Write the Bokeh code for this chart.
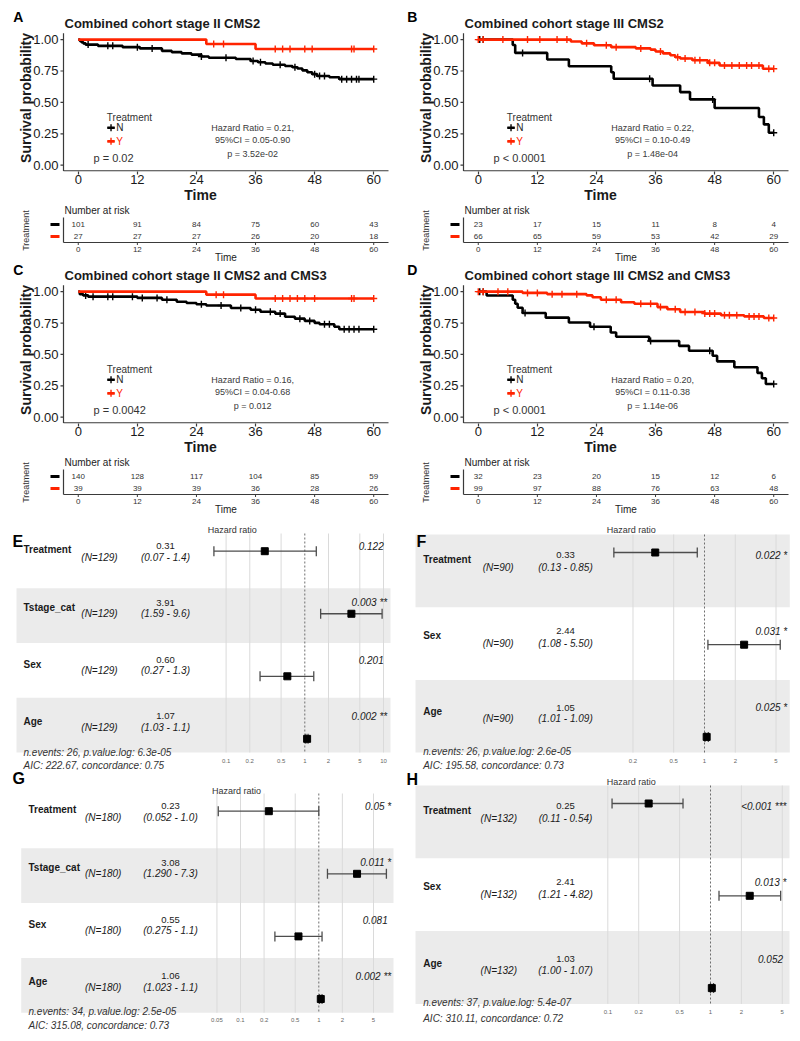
import math
from bokeh.plotting import figure
from bokeh.layouts import column, row
from bokeh.models import Range1d, FixedTicker
from bokeh.core.properties import value
from bokeh.embed import file_html
from bokeh.resources import INLINE

FONT = "Liberation Sans"
BLACK = "#000000"
RED = "#FF2400"
TXT = "#1a1a1a"
AXC = "#3a3a3a"

# ------------------------------------------------------------------ data
risk_times = [0, 12, 24, 36, 48, 60]
surv_ticks = [0, 0.25, 0.5, 0.75, 1.0]
group_labels = ["N", "Y"]

# Panel A
a_title = "Combined cohort stage II CMS2"
a_n_t = [0, 0.3, 0.6, 1.0, 1.5, 4, 9, 12.5, 17, 19, 21, 23, 25, 26.5, 32, 35, 36.5, 38, 39.5, 42, 43.5, 44.5, 45.5, 46.5, 47.5, 48.5, 51, 53]
a_n_s = [1.0, 0.99, 0.98, 0.97, 0.96, 0.95, 0.94, 0.93, 0.91, 0.90, 0.89, 0.88, 0.865, 0.855, 0.845, 0.83, 0.82, 0.81, 0.80, 0.79, 0.78, 0.77, 0.755, 0.74, 0.725, 0.71, 0.70, 0.685]
a_n_c = [2, 6, 7, 12, 15, 25, 30, 35.5, 37, 41, 44, 48, 49, 50, 53.5, 54.5, 55.5, 56.5, 57, 60]
a_y_t = [0, 26, 36]
a_y_s = [1.0, 0.965, 0.925]
a_y_c = [27.5, 29.5, 40, 41.5, 43, 46, 47.5, 55.5, 56, 60]
a_pval = "p = 0.02"
a_hr = ["Hazard Ratio = 0.21,", "95%CI = 0.05-0.90", "p = 3.52e-02"]
a_risk_n = [101, 91, 84, 75, 60, 43]
a_risk_y = [27, 27, 27, 26, 20, 18]

# Panel B
b_title = "Combined cohort stage III CMS2"
b_n_t = [0, 7, 7.5, 14, 18.4, 27, 27.5, 35.4, 41, 43, 48, 57, 58, 59]
b_n_s = [1.0, 0.957, 0.894, 0.841, 0.788, 0.74, 0.688, 0.635, 0.582, 0.524, 0.455, 0.384, 0.325, 0.259]
b_n_c = [0.3, 1, 9, 34.8, 47.6, 60]
b_y_t = [0, 18.8, 21, 23.5, 27, 32, 35, 36, 37.5, 39, 40, 41, 43.5, 46.6, 49, 57.8]
b_y_s = [1.0, 0.985, 0.97, 0.955, 0.94, 0.93, 0.92, 0.905, 0.89, 0.875, 0.86, 0.85, 0.835, 0.815, 0.794, 0.768]
b_y_c = [0, 1, 5, 10, 12.5, 16, 18, 22, 26, 28, 33, 37, 40.5, 42, 44, 45, 47, 48, 50, 51.5, 53, 54.5, 55.5, 57, 59, 60]
b_pval = "p < 0.0001"
b_hr = ["Hazard Ratio = 0.22,", "95%CI = 0.10-0.49", "p = 1.48e-04"]
b_risk_n = [23, 17, 15, 11, 8, 4]
b_risk_y = [66, 65, 59, 53, 42, 29]

# Panel C
c_title = "Combined cohort stage II CMS2 and CMS3"
c_n_t = [0, 0.3, 1, 2, 12, 17, 20, 22, 24, 26, 31, 35, 37, 40, 42, 44, 46, 48, 49, 52, 53]
c_n_s = [1.0, 0.98, 0.97, 0.96, 0.95, 0.935, 0.92, 0.91, 0.90, 0.89, 0.87, 0.856, 0.84, 0.825, 0.80, 0.785, 0.767, 0.751, 0.74, 0.72, 0.70]
c_n_c = [1.5, 3, 6, 7, 11, 13, 16, 18, 25, 29, 33, 36, 39, 41, 45, 47, 50, 51, 54, 55, 56, 57, 60]
c_y_t = [0, 26, 36]
c_y_s = [1.0, 0.976, 0.945]
c_y_c = [28, 29.5, 40, 41.5, 43, 44.5, 46, 48, 55.5, 56, 60]
c_pval = "p = 0.0042"
c_hr = ["Hazard Ratio = 0.16,", "95%CI = 0.04-0.68", "p = 0.012"]
c_risk_n = [140, 128, 117, 104, 85, 59]
c_risk_y = [39, 39, 39, 36, 28, 26]

# Panel D
d_title = "Combined cohort stage III CMS2 and CMS3"
d_n_t = [0, 1.7, 7, 7.5, 8, 9, 13.7, 18.4, 22.7, 26.9, 28, 34.7, 40.8, 42.8, 47.6, 48.5, 52, 56.7, 57.6, 58.4]
d_n_s = [1.0, 0.969, 0.935, 0.903, 0.872, 0.83, 0.793, 0.754, 0.72, 0.675, 0.641, 0.607, 0.568, 0.529, 0.49, 0.445, 0.398, 0.353, 0.31, 0.264]
d_n_c = [0.3, 1, 9.5, 23.5, 35, 47, 60]
d_y_t = [0, 9, 14, 22, 23.2, 24.9, 29, 31.7, 36.4, 38.4, 41, 45.9, 49.3, 54, 58]
d_y_s = [1.0, 0.99, 0.98, 0.97, 0.955, 0.935, 0.916, 0.903, 0.877, 0.86, 0.838, 0.825, 0.812, 0.803, 0.79]
d_y_c = [0, 1, 4, 6, 10, 12, 15, 17, 20, 26, 28, 33, 35, 37, 40, 42, 44, 46, 47, 48, 50, 51, 52.5, 55, 56, 57, 59, 60]
d_pval = "p < 0.0001"
d_hr = ["Hazard Ratio = 0.20,", "95%CI = 0.11-0.38", "p = 1.14e-06"]
d_risk_n = [32, 23, 20, 15, 12, 6]
d_risk_y = [99, 97, 88, 76, 63, 48]

# Forest E
e_vars = ["Treatment", "Tstage_cat", "Sex", "Age"]
e_n = [129, 129, 129, 129]
e_hr = [0.31, 3.91, 0.60, 1.07]
e_lo = [0.07, 1.59, 0.27, 1.03]
e_hi = [1.4, 9.6, 1.3, 1.1]
e_hr_txt = ["0.31", "3.91", "0.60", "1.07"]
e_ci_txt = ["(0.07 - 1.4)", "(1.59 - 9.6)", "(0.27 - 1.3)", "(1.03 - 1.1)"]
e_p = ["0.122", "0.003", "0.201", "0.002"]
e_stars = ["", "**", "", "**"]
e_foot = ["n.events: 26, p.value.log: 6.3e-05", "AIC: 222.67, concordance: 0.75"]
e_ticks = [0.1, 0.2, 0.5, 1, 2, 5, 10]
e_tick_txt = ["0.1", "0.2", "0.5", "1", "2", "5", "10"]

# Forest F
f_vars = ["Treatment", "Sex", "Age"]
f_n = [90, 90, 90]
f_hr = [0.33, 2.44, 1.05]
f_lo = [0.13, 1.08, 1.01]
f_hi = [0.85, 5.50, 1.09]
f_hr_txt = ["0.33", "2.44", "1.05"]
f_ci_txt = ["(0.13 - 0.85)", "(1.08 - 5.50)", "(1.01 - 1.09)"]
f_p = ["0.022", "0.031", "0.025"]
f_stars = ["*", "*", "*"]
f_foot = ["n.events: 26, p.value.log: 2.6e-05", "AIC: 195.58, concordance: 0.73"]
f_ticks = [0.2, 0.5, 1, 2, 5]
f_tick_txt = ["0.2", "0.5", "1", "2", "5"]

# Forest G
g_vars = ["Treatment", "Tstage_cat", "Sex", "Age"]
g_n = [180, 180, 180, 180]
g_hr = [0.23, 3.08, 0.55, 1.06]
g_lo = [0.052, 1.290, 0.275, 1.023]
g_hi = [1.0, 7.3, 1.1, 1.1]
g_hr_txt = ["0.23", "3.08", "0.55", "1.06"]
g_ci_txt = ["(0.052 - 1.0)", "(1.290 - 7.3)", "(0.275 - 1.1)", "(1.023 - 1.1)"]
g_p = ["0.05", "0.011", "0.081", "0.002"]
g_stars = ["*", "*", "", "**"]
g_foot = ["n.events: 34, p.value.log: 2.5e-05", "AIC: 315.08, concordance: 0.73"]
g_ticks = [0.05, 0.1, 0.2, 0.5, 1, 2, 5]
g_tick_txt = ["0.05", "0.1", "0.2", "0.5", "1", "2", "5"]

# Forest H
h_vars = ["Treatment", "Sex", "Age"]
h_n = [132, 132, 132]
h_hr = [0.25, 2.41, 1.03]
h_lo = [0.11, 1.21, 1.00]
h_hi = [0.54, 4.82, 1.07]
h_hr_txt = ["0.25", "2.41", "1.03"]
h_ci_txt = ["(0.11 - 0.54)", "(1.21 - 4.82)", "(1.00 - 1.07)"]
h_p = ["<0.001", "0.013", "0.052"]
h_stars = ["***", "*", ""]
h_foot = ["n.events: 37, p.value.log: 5.4e-07", "AIC: 310.11, concordance: 0.72"]
h_ticks = [0.1, 0.2, 0.5, 1, 2, 5]
h_tick_txt = ["0.1", "0.2", "0.5", "1", "2", "5"]


# ------------------------------------------------------------------ helpers
def txt(p, x, y, text, size, style="normal", align="left", color=TXT, angle=0.0, baseline="middle"):
    p.text(x=x, y=y, text=text, text_font=value(FONT), text_font_size=f"{size}px",
           text_font_style=style, text_align=align, text_baseline=baseline,
           text_color=color, angle=angle)


def surv_at(t, s, c):
    v = s[0]
    for ti, si in zip(t, s):
        if ti <= c:
            v = si
    return v


W = 400
LEFT = 63           # pixel column of the y axis line inside each KM / risk figure
SX = 325 / 66.0     # px per month
SY = 139 / 1.1      # px per survival unit
X0, X1 = -3, 63     # plotted time extent (ggplot expansion)
Y0, Y1 = -0.05, 1.05


def base_fig(w, h, xr, yr, bottom=0, xlog=False):
    kw = dict(width=w, height=h, x_range=xr, y_range=yr, output_backend="svg",
              toolbar_location=None, min_border_left=0, min_border_right=0,
              min_border_top=0, min_border_bottom=bottom)
    if xlog:
        kw["x_axis_type"] = "log"
    p = figure(**kw)
    p.outline_line_color = None
    p.xgrid.visible = False
    p.ygrid.visible = False
    p.background_fill_color = "white"
    p.border_fill_color = "white"
    return p


def dx(px):
    return X0 + (px - LEFT) / SX


def km_panel(letter, title, n_t, n_s, n_c, y_t, y_s, y_c, pval, hr_lines, H, shift, letter_x, letter_y):
    # shift: pixel offset from the reference layout of panel A to this figure's own rows
    T = 33 + shift          # row of y = 1.05
    FB = 172 + shift        # row of the x axis line

    def dy(py):
        return Y1 - (py - T) / SY

    p = base_fig(W, H, Range1d(dx(0), dx(W)), Range1d(dy(FB), dy(0)), bottom=H - FB)
    p.yaxis.visible = False

    xa = p.xaxis[0]
    xa.ticker = FixedTicker(ticks=risk_times)
    xa.axis_line_color = None
    xa.major_tick_line_color = AXC
    xa.major_tick_line_width = 1.2
    xa.major_tick_out = 3
    xa.major_tick_in = 0
    xa.minor_tick_out = 0
    xa.minor_tick_in = 0
    xa.major_label_text_font = FONT
    xa.major_label_text_font_size = "13px"
    xa.major_label_text_color = TXT
    xa.major_label_standoff = 0
    xa.axis_label = "Time"
    xa.axis_label_text_font = FONT
    xa.axis_label_text_font_size = "14px"
    xa.axis_label_text_font_style = "bold"
    xa.axis_label_text_color = TXT
    xa.axis_label_standoff = 0

    yb = dy(FB - 0.6)
    p.segment(x0=[X0], y0=[yb], x1=[X1], y1=[yb], line_color=AXC, line_width=1.2)
    p.segment(x0=[X0], y0=[yb], x1=[X0], y1=[Y1], line_color=AXC, line_width=1.2)
    p.segment(x0=[dx(LEFT - 3)] * len(surv_ticks), y0=surv_ticks, x1=[X0] * len(surv_ticks),
              y1=surv_ticks, line_color=AXC, line_width=1.2)
    txt(p, [dx(LEFT - 5)] * len(surv_ticks), surv_ticks, [f"{v:.2f}" for v in surv_ticks], 13, align="right")
    txt(p, [dx(LEFT - 38)], [dy(98 + shift)], ["Survival probability"], 14, style="bold", align="center",
        angle=math.pi / 2)

    for t, s, c, col in ((n_t, n_s, n_c, BLACK), (y_t, y_s, y_c, RED)):
        p.step(x=t + [60], y=s + [s[-1]], mode="after", line_width=2.6, line_color=col)
        p.scatter(x=c, y=[surv_at(t, s, ci) for ci in c], marker="cross", size=7,
                  line_width=1.4, line_color=col)

    txt(p, [5.8], [0.377], ["Treatment"], 10, color="#333333")
    for lab, yy, col in ((group_labels[0], 0.298, BLACK), (group_labels[1], 0.19, RED)):
        p.line(x=[5.9, 7.4], y=[yy, yy], line_width=2.6, line_color=col)
        p.scatter(x=[6.65], y=[yy], marker="cross", size=7, line_width=1.4, line_color=col)
        txt(p, [7.7], [yy], [lab], 10, color=col if col == RED else "#222222")

    txt(p, [3.1], [0.061], [pval], 11, color="#333333")
    txt(p, [35.4] * 3, [0.298, 0.203, 0.093], hr_lines, 9, align="center", color="#3a3a3a")

    txt(p, [dx(LEFT + 1)], [dy(23 + shift)], [title], 13, style="bold")
    txt(p, [dx(letter_x)], [dy(letter_y)], [letter], 14, style="bold", color="#000000")
    return p


def risk_panel(n_vals, y_vals, H, top_ref):
    # top_ref: row of panel A's reference layout that maps to this figure's top edge
    def ry(ref):
        return 2 - (ref - 224) / 12.0

    p = base_fig(W, H, Range1d(dx(0), dx(W)), Range1d(ry(top_ref + H), ry(top_ref)))
    p.xaxis.visible = False
    p.yaxis.visible = False

    txt(p, risk_times, [2] * len(risk_times), [str(v) for v in n_vals], 8, align="center", color="#333333")
    txt(p, risk_times, [1] * len(risk_times), [str(v) for v in y_vals], 8, align="center", color="#333333")

    ya = ry(242)
    p.segment(x0=[X0], y0=[ya], x1=[X1], y1=[ya], line_color=AXC, line_width=1.2)
    p.segment(x0=[X0], y0=[ya], x1=[X0], y1=[ry(217)], line_color=AXC, line_width=1.2)
    p.segment(x0=risk_times, y0=[ya] * len(risk_times), x1=risk_times, y1=[ry(244.5)] * len(risk_times),
              line_color=AXC, line_width=1)
    txt(p, risk_times, [ry(248.5)] * len(risk_times), [str(v) for v in risk_times], 8, align="center",
        color="#333333")
    txt(p, [30], [ry(256.8)], ["Time"], 10, align="center", color="#222222")
    txt(p, [dx(LEFT + 1)], [ry(210)], ["Number at risk"], 10, color="#222222")
    txt(p, [dx(LEFT - 38)], [ry(230)], ["Treatment"], 9, align="center", color="#333333", angle=math.pi / 2)
    p.segment(x0=[dx(LEFT - 13)] * 2, y0=[2, 1], x1=[dx(LEFT - 4)] * 2, y1=[2, 1],
              line_color=[BLACK, RED], line_width=3.2)
    return p


OFF4 = {"name": (16.3, 2.5), "n": (23.5, 2.0), "est": (12.5, 2.0), "ci": (23.5, 2.0),
        "p": (12.5, 2.0), "pt": (17.7, 7.8)}
OFF3 = {"name": (25.0, 3.5), "n": (33.0, 3.0), "est": (20.0, 4.0), "ci": (33.0, 3.0),
        "p": (21.0, 3.5), "pt": (18.0, 19.5)}


def forest_panel(letter, vars_, ns, hr, lo, hi, hr_txt, ci_txt, pv, stars, foot, ticks, tick_txt, H, g):
    c, ppd = g["c"], g["ppd"]
    d = g.get("dy", 0)

    def hx(px):
        return 10 ** ((px - c) / ppd)

    p = base_fig(W, H, Range1d(hx(0), hx(W)), Range1d(H, 0), xlog=True)
    p.xaxis.visible = False
    p.yaxis.visible = False

    n = len(vars_)
    rt, rh = g["rt"] + d, g["rh"]
    off = g["off"]

    def ys(key):
        b, inc = off[key]
        return [rt + i * rh + b + i * inc for i in range(n)]

    gray = [i for i in range(n) if (n - 1 - i) % 2 == 0]
    p.quad(left=[hx(g["bl"])] * len(gray), right=[hx(g["br"])] * len(gray),
           top=[rt + i * rh for i in gray], bottom=[rt + (i + 1) * rh for i in gray],
           fill_color="#EBEBEB", line_color=None)

    other = [t for t in ticks if t != 1]
    p.segment(x0=other, y0=[rt] * len(other), x1=other, y1=[rt + n * rh] * len(other),
              line_color="#DADADA", line_width=1)
    p.segment(x0=[1], y0=[rt], x1=[1], y1=[rt + n * rh], line_color="#6e6e6e",
              line_width=1, line_dash="2 2")

    py = ys("pt")
    p.segment(x0=lo, y0=py, x1=hi, y1=py, line_color="#4d4d4d", line_width=1.3)
    p.segment(x0=lo, y0=[y - 5 for y in py], x1=lo, y1=[y + 5 for y in py], line_color="#4d4d4d", line_width=1.3)
    p.segment(x0=hi, y0=[y - 5 for y in py], x1=hi, y1=[y + 5 for y in py], line_color="#4d4d4d", line_width=1.3)
    p.scatter(x=hr, y=py, marker="square", size=7, fill_color="black", line_color="black")

    txt(p, [hx(g["name_x"])] * n, ys("name"), vars_, 10, style="bold")
    txt(p, [hx(g["n_x"])] * n, ys("n"), [f"(N={v})" for v in ns], 10, style="italic", align="center")
    txt(p, [hx(g["est_x"])] * n, ys("est"), hr_txt, 9.5, align="center")
    txt(p, [hx(g["est_x"])] * n, ys("ci"), ci_txt, 10, style="italic", align="center")
    txt(p, [hx(g["p_x"] - (0 if s else 3.5)) for s in stars], ys("p"),
        [f"{a} {s}" if s else a for a, s in zip(pv, stars)], 10, style="italic", align="right")
    txt(p, [hx(g["title_x"])], [g["title_y"] + d], ["Hazard ratio"], 9, align="center", color="#333333")
    txt(p, ticks, [g["tick_y"] + d] * len(ticks), tick_txt, 6, align="center", color="#666666")
    txt(p, [hx(g["foot_x"])] * 2, [v + d for v in g["foot_y"]], foot, 10, style="italic", color="#333333")
    txt(p, [hx(g["letter_x"])], [g["letter_y"] + d], [letter], 16, style="bold", color="#000000")
    return p


# ------------------------------------------------------------------ build
H1, H2, H3, H4, H5, H6 = 205, 57, 195, 58, 255, 270
SHIFT_C = 252 - (H1 + H2)
G_TOP = H1 + H2 + H3 + H4 + H5          # page row where the G/H figures start
G_D = 772 - G_TOP                        # offset of the G/H layout reference (top = 772)

pA = km_panel("A", a_title, a_n_t, a_n_s, a_n_c, a_y_t, a_y_s, a_y_c, a_pval, a_hr, H1, 0, 12.7, 17)
pB = km_panel("B", b_title, b_n_t, b_n_s, b_n_c, b_y_t, b_y_s, b_y_c, b_pval, b_hr, H1, 0, 6.7, 17)
rA = risk_panel(a_risk_n, a_risk_y, H2, H1)
rB = risk_panel(b_risk_n, b_risk_y, H2, H1)
pC = km_panel("C", c_title, c_n_t, c_n_s, c_n_c, c_y_t, c_y_s, c_y_c, c_pval, c_hr, H3, SHIFT_C, 12.7, 8)
pD = km_panel("D", d_title, d_n_t, d_n_s, d_n_c, d_y_t, d_y_s, d_y_c, d_pval, d_hr, H3, SHIFT_C, 6.7, 8)
rC = risk_panel(c_risk_n, c_risk_y, H4, H1 + H2 + H3 - 252)
rD = risk_panel(d_risk_n, d_risk_y, H4, H1 + H2 + H3 - 252)

gE = dict(c=304.3, ppd=78.7, rt=18, rh=54.75, bl=16, br=390, name_x=23, n_x=99,
          est_x=165, p_x=386.7, title_x=231.7, title_y=14, letter_x=12, letter_y=26, foot_x=23,
          foot_y=(236.5, 249.5), tick_y=245, off=OFF4)
gF = dict(c=304, ppd=102.3, rt=19, rh=72.7, bl=15, br=389.3, name_x=22.7, n_x=97.7,
          est_x=165, p_x=386.7, title_x=230.7, title_y=14, letter_x=16, letter_y=26, foot_x=22.7,
          foot_y=(236.3, 249.5), tick_y=245, off=OFF3)
gG = dict(c=318.3, ppd=78.3, rt=21, rh=54.8, bl=20.7, br=393, name_x=28, n_x=102.7,
          est_x=170, p_x=390.7, title_x=236, title_y=18, letter_x=12, letter_y=6, foot_x=28,
          foot_y=(239, 253), tick_y=247, off=OFF4, dy=G_D)
gH = dict(c=310, ppd=102.7, rt=13, rh=72.8, bl=15, br=389, name_x=22.7, n_x=98.3,
          est_x=165, p_x=386, title_x=230.7, title_y=9, letter_x=6, letter_y=7, foot_x=22.7,
          foot_y=(230.3, 245.7), tick_y=239, off=OFF3, dy=G_D)

pE = forest_panel("E", e_vars, e_n, e_hr, e_lo, e_hi, e_hr_txt, e_ci_txt, e_p, e_stars, e_foot, e_ticks, e_tick_txt, H5, gE)
pF = forest_panel("F", f_vars, f_n, f_hr, f_lo, f_hi, f_hr_txt, f_ci_txt, f_p, f_stars, f_foot, f_ticks, f_tick_txt, H5, gF)
pG = forest_panel("G", g_vars, g_n, g_hr, g_lo, g_hi, g_hr_txt, g_ci_txt, g_p, g_stars, g_foot, g_ticks, g_tick_txt, H6, gG)
pH = forest_panel("H", h_vars, h_n, h_hr, h_lo, h_hi, h_hr_txt, h_ci_txt, h_p, h_stars, h_foot, h_ticks, h_tick_txt, H6, gH)

layout = column(row(pA, pB), row(rA, rB), row(pC, pD), row(rC, rD), row(pE, pF), row(pG, pH))

open("out.html", "w").write(file_html(layout, INLINE))
